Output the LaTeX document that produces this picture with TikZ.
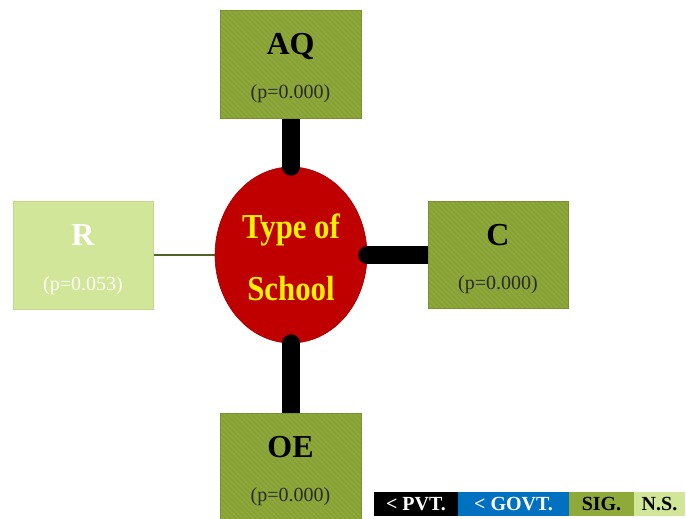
\documentclass[tikz,border=0pt]{standalone}
\usepackage{fontspec}
\setmainfont{Liberation Serif}
\newfontfamily\narrowbold[FakeStretch=0.88]{Liberation Serif}
\usetikzlibrary{shapes.geometric,calc}
\pgfdeclarelayer{back}
\pgfdeclarelayer{mid}
\pgfsetlayers{back,mid,main}
\definecolor{sigg}{HTML}{8FAA3A}
\definecolor{sigedge}{HTML}{7A922E}
\definecolor{nsg}{HTML}{D2E699}
\definecolor{nsedge}{HTML}{C3D889}
\definecolor{schoolred}{HTML}{C00000}
\definecolor{govblue}{HTML}{0070C0}
\definecolor{ptext}{HTML}{2A2A2A}
\definecolor{thinline}{HTML}{4F6228}
\tikzset{
  x=1pt, y=-1pt,
  factor/.style={rectangle, minimum width=141pt, minimum height=108pt, inner sep=0pt},
  sigbox/.style={factor, fill=sigg, draw=sigedge, line width=0.8pt,
    path picture={
      \foreach \k in {-24,...,30}
        \draw[black, opacity=0.05, line width=2pt]
          ($(path picture bounding box.north west)+(\k*5,0)$) -- ++(115,115);
    }},
  nsbox/.style={factor, fill=nsg, draw=nsedge, line width=0.8pt},
  bigletter/.style={anchor=base, inner sep=0pt, font=\bfseries\fontsize{32}{36}\selectfont},
  pvalue/.style={anchor=base, inner sep=0pt, font=\fontsize{20}{24}\selectfont},
  strong/.style={line width=18pt, line cap=round, draw=black},
  weak/.style={line width=1.5pt, draw=thinline},
  keybox/.style={rectangle, minimum height=24pt, inner sep=0pt,
    font=\bfseries\fontsize{20}{22}\selectfont},
}
\begin{document}
\begin{tikzpicture}
\useasboundingbox (0,0) rectangle (686,519);

% central factor
\begin{pgfonlayer}{back}
  \node[ellipse, minimum width=152pt, minimum height=176pt, inner sep=0pt,
        fill=schoolred, draw=schoolred!85!black, line width=0.6pt] (ts) at (291,255) {};
\end{pgfonlayer}
\node[anchor=base, inner sep=0pt, text=yellow,
      font=\narrowbold\bfseries\fontsize{35}{40}\selectfont] (ts1) at (291,238) {Type of};
\node[anchor=base, inner sep=0pt, text=yellow,
      font=\narrowbold\bfseries\fontsize{35}{40}\selectfont] (ts2) at (291,300) {School};

% outcome boxes
\node[sigbox] (aq) at (290.5,64) {};
\node[bigletter] (aqt) at (290.5,55) {AQ};
\node[pvalue, text=ptext] (aqp) at (290.5,99) {(p=0.000)};

\node[sigbox, minimum width=140pt, minimum height=107pt] (c) at (498,254.5) {};
\node[bigletter] (ct) at (498,245) {C};
\node[pvalue, text=ptext] (cp) at (498,289) {(p=0.000)};

\node[nsbox, minimum width=140pt] (r) at (83,255) {};
\node[bigletter, text=white] (rt) at (83,245) {R};
\node[pvalue, text=white!92!nsg] (rp) at (83,290) {(p=0.053)};

\node[sigbox] (oe) at (290.5,467) {};
\node[bigletter] (oet) at (290.5,457) {OE};
\node[pvalue, text=ptext] (oep) at (290.5,501) {(p=0.000)};

% connectors
\begin{pgfonlayer}{mid}
  \draw[strong] (ts.north) -- (ts.north |- aq.south);
  \draw[strong] (ts.east) -- (ts.east -| c.west);
  \draw[strong] (ts.south) -- (ts.south |- oe.north);
  \draw[weak] (r.east) -- (ts.west);
\end{pgfonlayer}

% key
\node[keybox, fill=black, text=white, minimum width=84pt] (k1) at (416,504) {< PVT.};
\node[keybox, fill=govblue, text=white, minimum width=111pt] (k2) at (513.5,504) {< GOVT.};
\node[keybox, fill=sigg, text=black, minimum width=65pt] (k3) at (601.5,504) {SIG.};
\node[keybox, fill=nsg, text=black, minimum width=51pt] (k4) at (659.5,504) {N.S.};
\end{tikzpicture}
\end{document}
